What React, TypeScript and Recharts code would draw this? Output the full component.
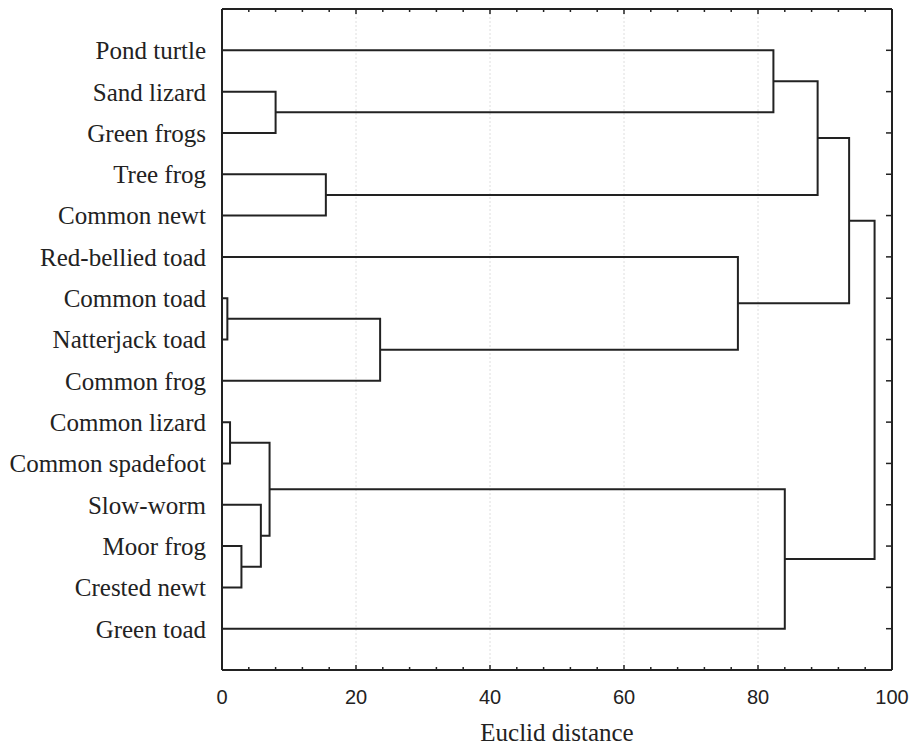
import React from 'react';
import { ScatterChart, Scatter, XAxis, YAxis, CartesianGrid } from 'recharts';

const leaves = [
  'Pond turtle',
  'Sand lizard',
  'Green frogs',
  'Tree frog',
  'Common newt',
  'Red-bellied toad',
  'Common toad',
  'Natterjack toad',
  'Common frog',
  'Common lizard',
  'Common spadefoot',
  'Slow-worm',
  'Moor frog',
  'Crested newt',
  'Green toad',
];

// '#n' refers to the cluster formed by the n-th merge
const mergeLeft = ['Common toad', 'Common lizard', 'Moor frog', 'Slow-worm', '#1', 'Sand lizard', 'Tree frog', '#0', 'Red-bellied toad', 'Pond turtle', '#4', '#9', '#11', '#12'];
const mergeRight = ['Natterjack toad', 'Common spadefoot', 'Crested newt', '#2', '#3', 'Green frogs', 'Common newt', 'Common frog', '#7', '#5', 'Green toad', '#6', '#8', '#10'];
const mergeHeight = [0.8, 1.2, 2.9, 5.8, 7.1, 8.0, 15.5, 23.6, 77.0, 82.3, 84.0, 88.9, 93.6, 97.4];

const distTicks = [0, 4, 8, 12, 16, 20, 24, 28, 32, 36, 40, 44, 48, 52, 56, 60, 64, 68, 72, 76, 80, 84, 88, 92, 96, 100];
const gridTicks = [20, 40, 60, 80];

const INK = '#222';
const SERIF = '"Liberation Serif", "Times New Roman", serif';
const SANS = '"Liberation Sans", Arial, sans-serif';

type Pt = { x: number; y: number };

const leafPos = leaves.map((_, i) => i + 1);
const nodes: Pt[] = [];
const at = (ref: string): Pt =>
  ref.startsWith('#') ? nodes[Number(ref.slice(1))] : { x: 0, y: leaves.indexOf(ref) + 1 };

const links: Pt[][] = mergeHeight.map((h, i) => {
  const a = at(mergeLeft[i]);
  const b = at(mergeRight[i]);
  nodes.push({ x: h, y: (a.y + b.y) / 2 });
  return [a, { x: h, y: a.y }, { x: h, y: b.y }, b];
});

function BottomTick(props: any) {
  const { x, y, payload } = props;
  const major = payload.value % 20 === 0;
  return (
    <g>
      <line x1={x} x2={x} y1={y} y2={y - (major ? 5 : 3)} stroke={INK} strokeWidth={1.5} />
      {major && (
        <text x={x} y={y + 33.5} textAnchor="middle" fontFamily={SANS} fontSize={20} fill={INK}>
          {payload.value}
        </text>
      )}
    </g>
  );
}

function TopTick(props: any) {
  const { x, y, payload } = props;
  const major = payload.value % 20 === 0;
  return <line x1={x} x2={x} y1={y} y2={y + (major ? 5 : 3)} stroke={INK} strokeWidth={1.5} />;
}

function RightTick(props: any) {
  const { x, y } = props;
  return <line x1={x} x2={x - 6} y1={y} y2={y} stroke={INK} strokeWidth={1.5} />;
}

const noShape = () => <g />;

export default function App() {
  return (
    <div style={{ position: 'absolute', left: 0, top: 0, width: 918, height: 748, background: '#fff' }}>
      <ScatterChart width={918} height={748} margin={{ top: 8, right: 25, bottom: 0, left: 0 }}>
        <CartesianGrid xAxisId="grid" yAxisId="r" horizontal={false} stroke="#dedede" strokeDasharray="2 2" />
        <XAxis xAxisId="grid" dataKey="x" type="number" domain={[0, 100]} ticks={gridTicks} interval={0} hide />
        <XAxis
          xAxisId="b"
          dataKey="x"
          type="number"
          domain={[0, 100]}
          ticks={distTicks}
          interval={0}
          height={78}
          tickSize={0}
          tickMargin={0}
          tickLine={false}
          axisLine={{ stroke: INK, strokeWidth: 2 }}
          tick={(p: any) => <BottomTick {...p} />}
          label={{ value: 'Euclid distance', position: 'insideBottom', offset: 7, fill: INK, fontSize: 25, fontFamily: SERIF }}
        />
        <XAxis
          xAxisId="t"
          orientation="top"
          dataKey="x"
          type="number"
          domain={[0, 100]}
          ticks={distTicks}
          interval={0}
          height={1}
          tickSize={0}
          tickMargin={0}
          tickLine={false}
          axisLine={{ stroke: INK, strokeWidth: 2 }}
          tick={(p: any) => <TopTick {...p} />}
        />
        <YAxis
          yAxisId="l"
          dataKey="y"
          type="number"
          domain={[0, leaves.length + 1]}
          reversed
          ticks={leafPos}
          interval={0}
          width={222}
          tickSize={0}
          tickMargin={16}
          tickLine={false}
          axisLine={{ stroke: INK, strokeWidth: 2 }}
          tickFormatter={(v: number) => leaves[v - 1]}
          tick={{ fill: INK, fontSize: 25, fontFamily: SERIF }}
        />
        <YAxis
          yAxisId="r"
          orientation="right"
          dataKey="y"
          type="number"
          domain={[0, leaves.length + 1]}
          reversed
          ticks={leafPos}
          interval={0}
          width={1}
          tickSize={0}
          tickMargin={0}
          tickLine={false}
          axisLine={{ stroke: INK, strokeWidth: 2 }}
          tick={(p: any) => <RightTick {...p} />}
        />
        {/* invisible series so the frame axes and the grid axis get registered */}
        <Scatter xAxisId="t" yAxisId="r" data={nodes} shape={noShape} legendType="none" isAnimationActive={false} />
        <Scatter xAxisId="grid" yAxisId="r" data={nodes} shape={noShape} legendType="none" isAnimationActive={false} />
        {links.map((pts, i) => (
          <Scatter
            key={i}
            xAxisId="b"
            yAxisId="l"
            data={pts}
            line={{ stroke: INK, strokeWidth: 2 }}
            shape={noShape}
            legendType="none"
            isAnimationActive={false}
          />
        ))}
      </ScatterChart>
    </div>
  );
}
